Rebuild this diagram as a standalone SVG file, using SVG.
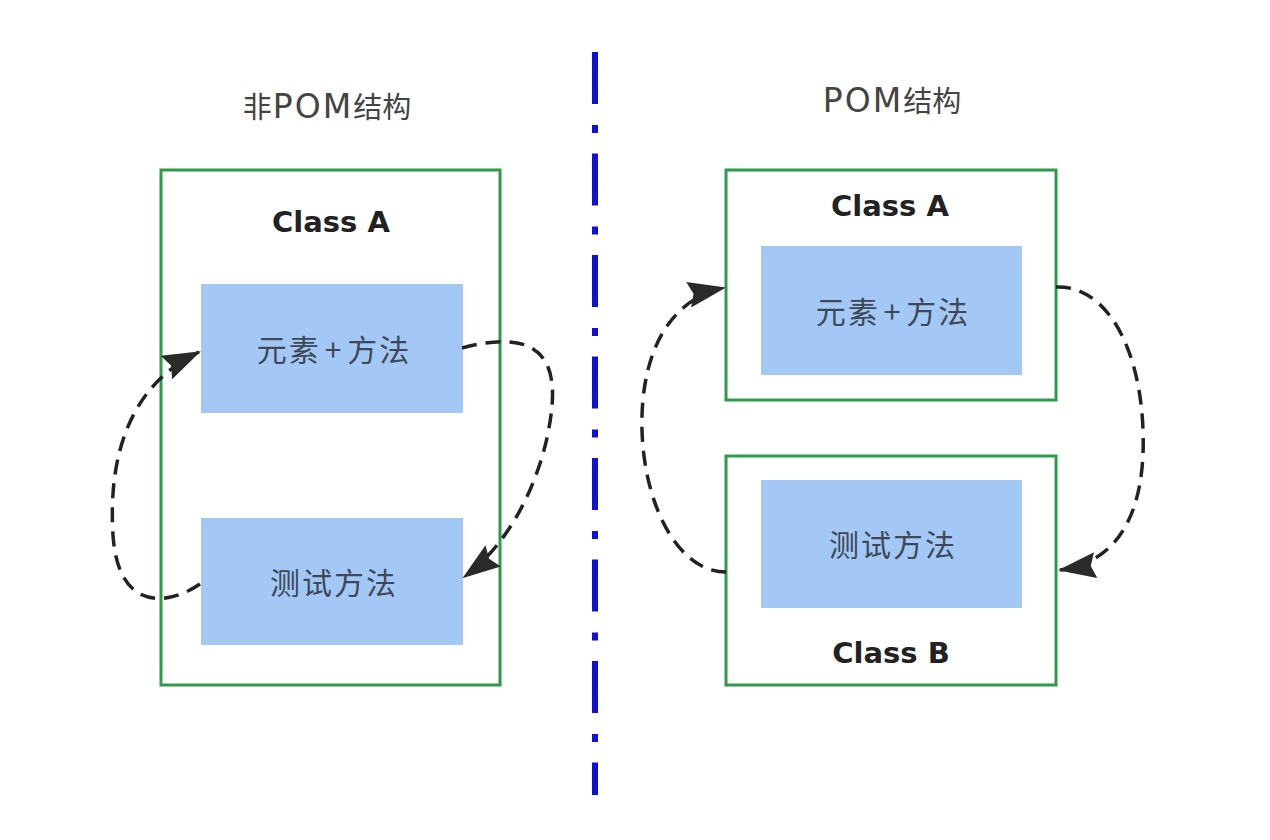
<svg xmlns="http://www.w3.org/2000/svg" width="1270" height="840" viewBox="0 0 1270 840">
  <style>
    .title { font-family: "Noto Sans CJK SC", "Noto Sans", sans-serif; font-size: 29px; fill: #444444; text-anchor: middle; }
    .lat { font-family: "DejaVu Sans", "Noto Sans", sans-serif; font-size: 33px; letter-spacing: 2px; }
    .cls { font-family: "DejaVu Sans", "Noto Sans", sans-serif; font-weight: bold; font-size: 29px; fill: #222222; text-anchor: middle; }
    .lbl { font-family: "Noto Sans CJK SC", "Noto Sans", sans-serif; font-size: 30px; fill: #3e4858; text-anchor: middle; letter-spacing: 2px; }
    .frame { fill: #ffffff; stroke: #2f9a48; stroke-width: 3; }
    .inner { fill: #a3c8f5; stroke: none; }
    .conn { fill: none; stroke: #222222; stroke-width: 3.5; stroke-dasharray: 15 9; }
  </style>
  <defs>
    <marker id="ah" viewBox="0 0 38 26" refX="36" refY="13" markerWidth="38" markerHeight="26" markerUnits="userSpaceOnUse" orient="auto">
      <path d="M0,0 L38,13 L0,26 L5,13 z" fill="#2a2a2a"/>
    </marker>
  </defs>
  <rect width="1270" height="840" fill="#ffffff"/>

  <line x1="595" y1="52" x2="595" y2="795" stroke="#1010d8" stroke-width="6" stroke-dasharray="52 21 8 20.5"/>

  <text class="title" x="327" y="118">非<tspan class="lat" dx="1">POM</tspan>结构</text>
  <text class="title" x="892" y="112"><tspan class="lat">POM</tspan>结构</text>

  <g id="left-classA">
    <rect class="frame" x="161" y="170" width="339" height="515"/>
    <text class="cls" x="331" y="232">Class A</text>
  </g>
  <g id="left-elements">
    <rect class="inner" x="201" y="284" width="262" height="129"/>
    <text class="lbl" x="334" y="361">元素<tspan dx="4">+</tspan><tspan dx="4">方法</tspan></text>
  </g>
  <g id="left-tests">
    <rect class="inner" x="201" y="518" width="262" height="127"/>
    <text class="lbl" x="334" y="594">测试方法</text>
  </g>

  <g id="right-classA">
    <rect class="frame" x="726" y="170" width="330" height="230"/>
    <text class="cls" x="890" y="216">Class A</text>
  </g>
  <g id="right-elements">
    <rect class="inner" x="761" y="246" width="261" height="129"/>
    <text class="lbl" x="893" y="323">元素<tspan dx="4">+</tspan><tspan dx="4">方法</tspan></text>
  </g>
  <g id="right-classB">
    <rect class="frame" x="726" y="456" width="330" height="229"/>
    <text class="cls" x="891" y="663">Class B</text>
  </g>
  <g id="right-tests">
    <rect class="inner" x="761" y="480" width="261" height="128"/>
    <text class="lbl" x="893" y="556">测试方法</text>
  </g>

  <g id="connectors">
    <path class="conn" d="M462 348 C530 330 560 350 551 415 C544 470 515 540 464 577" marker-end="url(#ah)"/>
    <path class="conn" d="M200 584 C168 606 118 612 113 535 C108 455 130 385 199 352" marker-end="url(#ah)"/>
    <path class="conn" d="M1056 287 C1105 285 1140 345 1143 430 C1146 510 1120 562 1060 570" marker-end="url(#ah)"/>
    <path class="conn" d="M726 572 C678 572 644 505 642 430 C640 350 672 298 724 288" marker-end="url(#ah)"/>
  </g>
</svg>
